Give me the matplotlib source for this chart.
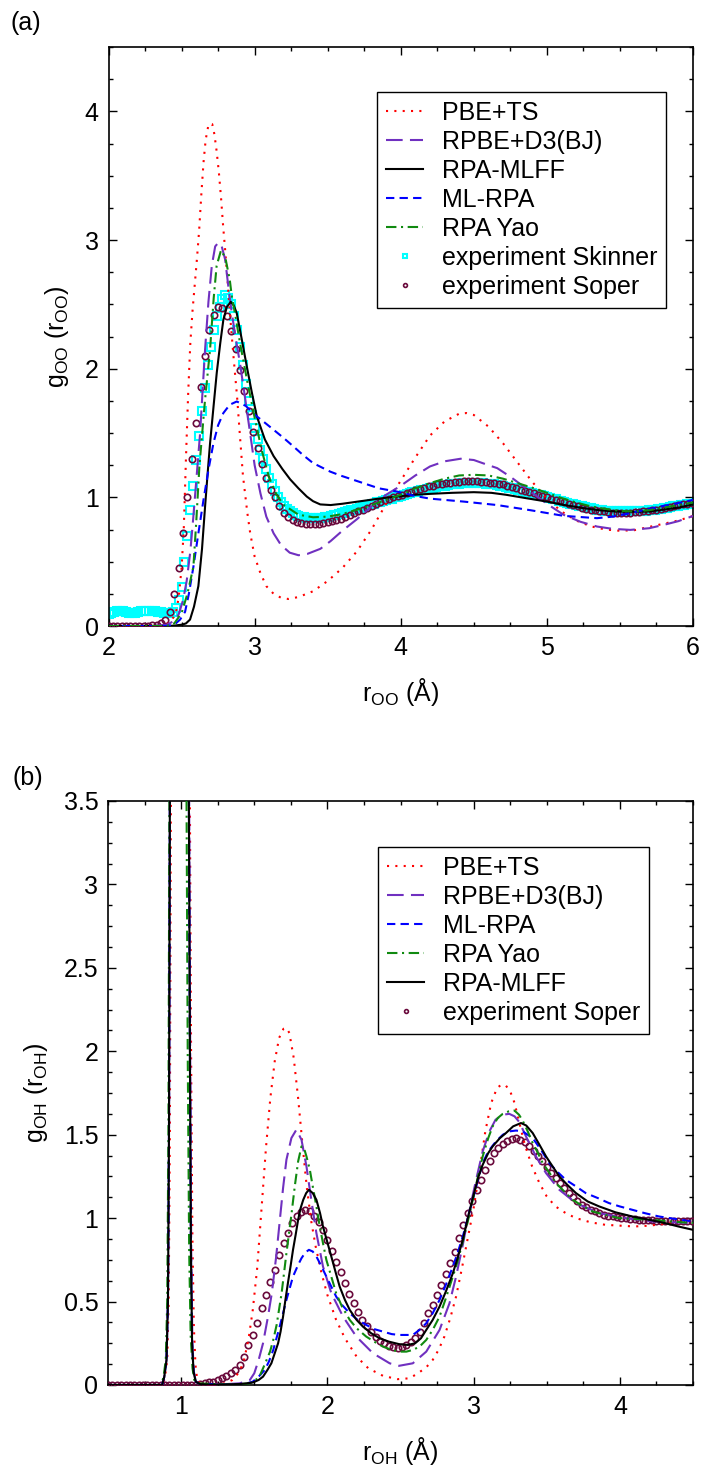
import numpy as np
import matplotlib
matplotlib.use("Agg")
from matplotlib import pyplot as plt
from matplotlib.ticker import MultipleLocator, FormatStrFormatter

plt.rcParams["font.family"] = ["Liberation Sans", "DejaVu Sans"]
plt.rcParams["mathtext.fontset"] = "custom"
plt.rcParams["mathtext.rm"] = "Liberation Sans"
plt.rcParams["mathtext.it"] = "Liberation Sans:italic"

# ---------------- panel (a): g_OO ----------------
pbeTs_r_a = [2.00, 2.20, 2.35, 2.40, 2.43, 2.46, 2.48, 2.50, 2.515, 2.53, 2.545, 2.56, 2.575, 2.59, 2.605,
             2.62, 2.635, 2.65, 2.665, 2.685, 2.71, 2.725, 2.74, 2.755, 2.77, 2.785, 2.80, 2.815, 2.83, 2.855,
             2.88, 2.90, 2.92, 2.95, 2.97, 3.00, 3.04, 3.08, 3.13, 3.18, 3.23, 3.30, 3.40, 3.50, 3.60, 3.70,
             3.80, 3.90, 4.00, 4.10, 4.20, 4.30, 4.40, 4.45, 4.50, 4.60, 4.70, 4.80, 4.90, 5.00, 5.10, 5.20,
             5.30, 5.40, 5.50, 5.60, 5.70, 5.80, 5.90, 6.00]
pbeTs_g_a = [0, 0, 0.003, 0.015, 0.04, 0.10, 0.22, 0.45, 0.75, 1.3, 1.8, 2.2, 2.45, 2.65, 2.85,
             3.07, 3.35, 3.6, 3.78, 3.9, 3.9, 3.82, 3.69, 3.53, 3.33, 3.1, 2.9, 2.68, 2.44, 2.1,
             1.78, 1.47, 1.17, 0.88, 0.72, 0.54, 0.41, 0.31, 0.25, 0.22, 0.21, 0.225, 0.27, 0.35, 0.45, 0.58,
             0.75, 0.95, 1.13, 1.31, 1.48, 1.59, 1.65, 1.655, 1.64, 1.55, 1.42, 1.27, 1.12, 0.99, 0.89, 0.82,
             0.775, 0.75, 0.74, 0.745, 0.77, 0.795, 0.82, 0.855]

rpbe_r_a = [2.00, 2.30, 2.40, 2.45, 2.48, 2.51, 2.535, 2.56, 2.58, 2.60, 2.627, 2.645, 2.661, 2.684, 2.707,
            2.73, 2.752, 2.775, 2.798, 2.82, 2.844, 2.87, 2.90, 2.935, 2.969, 3.00, 3.04, 3.08, 3.13, 3.18,
            3.24, 3.30, 3.36, 3.45, 3.52, 3.60, 3.70, 3.80, 3.90, 4.00, 4.10, 4.20, 4.30, 4.41, 4.50, 4.60,
            4.66, 4.75, 4.887, 5.00, 5.115, 5.23, 5.343, 5.45, 5.571, 5.70, 5.80, 5.90, 6.00]
rpbe_g_a = [0, 0, 0.01, 0.04, 0.09, 0.2, 0.35, 0.58, 0.84, 1.12, 1.5, 1.85, 2.15, 2.52, 2.8,
            2.95, 2.98, 2.95, 2.85, 2.64, 2.43, 2.24, 2.04, 1.77, 1.5, 1.25, 1.03, 0.85, 0.72, 0.63,
            0.57, 0.55, 0.56, 0.6, 0.66, 0.74, 0.83, 0.93, 1.02, 1.09, 1.17, 1.24, 1.28, 1.30, 1.29, 1.25,
            1.227, 1.16, 1.045, 0.95, 0.864, 0.81, 0.773, 0.755, 0.747, 0.76, 0.786, 0.815, 0.855]

mlff_r_a = [2.00, 2.40, 2.45, 2.50, 2.53, 2.558, 2.585, 2.615, 2.64, 2.661, 2.678, 2.695, 2.72, 2.741, 2.765,
            2.786, 2.81, 2.837, 2.858, 2.878, 2.91, 2.946, 2.98, 3.015, 3.07, 3.13, 3.19, 3.243, 3.30, 3.357,
            3.40, 3.449, 3.52, 3.60, 3.745, 3.85, 3.974, 4.10, 4.20, 4.35, 4.50, 4.62, 4.72, 4.85, 5.00,
            5.12, 5.25, 5.36, 5.47, 5.60, 5.70, 5.80, 5.90, 6.00]
mlff_g_a = [0, 0, 0.003, 0.01, 0.02, 0.05, 0.15, 0.31, 0.6, 0.93, 1.18, 1.42, 1.72, 1.97, 2.2,
            2.38, 2.48, 2.52, 2.49, 2.43, 2.24, 2.02, 1.82, 1.63, 1.45, 1.32, 1.22, 1.14, 1.07, 1.006,
            0.97, 0.945, 0.94, 0.95, 0.973, 0.99, 1.006, 1.02, 1.027, 1.035, 1.04, 1.035, 1.02, 0.995, 0.967,
            0.94, 0.916, 0.9, 0.89, 0.888, 0.89, 0.905, 0.92, 0.945]

mlRpa_r_a = [2.00, 2.40, 2.45, 2.49, 2.524, 2.55, 2.581, 2.615, 2.65, 2.685, 2.718, 2.75, 2.786, 2.83, 2.878,
             2.94, 3.003, 3.07, 3.13, 3.20, 3.266, 3.33, 3.40, 3.517, 3.586, 3.745, 3.85, 3.974, 4.10, 4.20,
             4.43, 4.66, 4.887, 5.115, 5.343, 5.45, 5.571, 5.70, 5.80, 5.90, 6.00]
mlRpa_g_a = [0, 0, 0.01, 0.05, 0.11, 0.25, 0.46, 0.72, 0.98, 1.22, 1.42, 1.56, 1.655, 1.72, 1.745,
             1.71, 1.64, 1.58, 1.525, 1.46, 1.395, 1.33, 1.266, 1.20, 1.17, 1.11, 1.07, 1.045, 1.01, 0.99,
             0.967, 0.94, 0.90, 0.856, 0.838, 0.85, 0.877, 0.91, 0.934, 0.955, 0.98]

yao_r_a = [2.00, 2.40, 2.45, 2.50, 2.54, 2.581, 2.60, 2.622, 2.66, 2.695, 2.72, 2.74, 2.77, 2.80, 2.83,
           2.844, 2.87, 2.90, 2.95, 3.00, 3.05, 3.10, 3.15, 3.20, 3.30, 3.40, 3.50, 3.60, 3.75, 3.90,
           4.00, 4.10, 4.20, 4.30, 4.40, 4.50, 4.60, 4.70, 4.80, 4.90, 5.00, 5.10, 5.20, 5.30, 5.40,
           5.50, 5.60, 5.70, 5.80, 5.90, 6.00]
yao_g_a = [0, 0, 0.02, 0.1, 0.25, 0.46, 0.8, 1.24, 1.75, 2.15, 2.55, 2.8, 2.92, 2.86, 2.69,
           2.56, 2.4, 2.2, 1.9, 1.62, 1.36, 1.15, 1.02, 0.94, 0.865, 0.845, 0.85, 0.87, 0.92, 0.98,
           1.02, 1.07, 1.11, 1.145, 1.17, 1.175, 1.17, 1.145, 1.11, 1.075, 1.035, 0.995, 0.96, 0.93, 0.91,
           0.895, 0.89, 0.9, 0.92, 0.94, 0.96]

# experiment Skinner, sampled every 0.02 A from 2.00
skinner_r0, skinner_dr = 2.00, 0.02
skinner_g = [0.09, 0.10, 0.11, 0.12, 0.12, 0.12, 0.11, 0.10, 0.10, 0.10,
             0.11, 0.12, 0.12, 0.12, 0.12, 0.12, 0.12, 0.11, 0.11, 0.10,
             0.10, 0.10, 0.11, 0.14, 0.20, 0.30, 0.50, 0.70, 0.90, 1.09,
             1.29, 1.48, 1.67, 1.85, 2.03, 2.17, 2.30, 2.41, 2.48, 2.54,
             2.57, 2.55, 2.50, 2.41, 2.30, 2.17, 2.03, 1.88, 1.75, 1.64,
             1.54, 1.45, 1.37, 1.30, 1.22, 1.15, 1.10, 1.05, 1.00, 0.96,
             0.93, 0.91, 0.89, 0.875, 0.865, 0.855, 0.85, 0.845, 0.84, 0.84,
             0.84, 0.84, 0.84, 0.84, 0.845, 0.85, 0.855, 0.86, 0.865, 0.87,
             0.88, 0.885, 0.89, 0.90, 0.905, 0.91, 0.92, 0.925, 0.93, 0.94,
             0.945, 0.95, 0.96, 0.965, 0.97, 0.98, 0.985, 0.99, 1.00, 1.005,
             1.01, 1.02, 1.025, 1.03, 1.04, 1.045, 1.05, 1.055, 1.06, 1.065,
             1.07, 1.075, 1.08, 1.085, 1.09, 1.09, 1.095, 1.10, 1.10, 1.105,
             1.105, 1.11, 1.11, 1.11, 1.11, 1.11, 1.11, 1.11, 1.11, 1.105,
             1.105, 1.10, 1.10, 1.095, 1.09, 1.085, 1.08, 1.075, 1.07, 1.065,
             1.06, 1.055, 1.05, 1.045, 1.04, 1.03, 1.025, 1.02, 1.015, 1.01,
             1.005, 0.995, 0.99, 0.985, 0.975, 0.97, 0.965, 0.955, 0.95, 0.945,
             0.94, 0.935, 0.93, 0.925, 0.92, 0.915, 0.91, 0.905, 0.90, 0.90,
             0.895, 0.895, 0.89, 0.89, 0.89, 0.89, 0.89, 0.89, 0.89, 0.89,
             0.89, 0.89, 0.89, 0.895, 0.895, 0.90, 0.90, 0.905, 0.91, 0.91,
             0.915, 0.92, 0.925, 0.93, 0.93, 0.935, 0.94, 0.94, 0.945, 0.95,
             0.95, 0.955, 0.96]

# experiment Soper, sampled every 0.03 A from 2.00
soperOO_r0, soperOO_dr = 2.00, 0.03
soperOO_g = [0, 0, 0, 0, 0, 0, 0, 0, 0, 0,
             0.005, 0.01, 0.02, 0.05, 0.11, 0.25, 0.45, 0.72, 1.00, 1.30,
             1.58, 1.86, 2.10, 2.30, 2.42, 2.48, 2.47, 2.41, 2.29, 2.15,
             1.99, 1.83, 1.67, 1.51, 1.38, 1.26, 1.15, 1.06, 1.00, 0.93,
             0.88, 0.85, 0.82, 0.81, 0.80, 0.795, 0.79, 0.79, 0.79, 0.80,
             0.805, 0.815, 0.825, 0.835, 0.85, 0.86, 0.875, 0.89, 0.905, 0.92,
             0.935, 0.95, 0.965, 0.98, 0.99, 1.00, 1.01, 1.02, 1.035, 1.045,
             1.055, 1.065, 1.075, 1.085, 1.09, 1.10, 1.105, 1.11, 1.115, 1.12,
             1.12, 1.125, 1.125, 1.125, 1.125, 1.12, 1.12, 1.115, 1.11, 1.105,
             1.10, 1.09, 1.08, 1.07, 1.06, 1.05, 1.04, 1.03, 1.02, 1.01,
             1.00, 0.99, 0.98, 0.97, 0.96, 0.95, 0.94, 0.93, 0.92, 0.91,
             0.905, 0.90, 0.895, 0.89, 0.885, 0.88, 0.88, 0.88, 0.88, 0.88,
             0.885, 0.885, 0.89, 0.895, 0.90, 0.905, 0.91, 0.915, 0.925, 0.93,
             0.94, 0.945, 0.95, 0.955]

# ---------------- panel (b): g_OH ----------------
pbeTs_r_b = [0.50, 0.875, 0.89, 0.905, 0.915, 0.923, 0.93, 0.942, 0.96, 0.985, 1.01, 1.035, 1.05, 1.06, 1.068,
             1.077, 1.087, 1.098, 1.11, 1.13, 1.20, 1.25, 1.30, 1.35, 1.40, 1.43, 1.46, 1.49, 1.52, 1.55,
             1.58, 1.61, 1.64, 1.67, 1.70, 1.72, 1.74, 1.77, 1.80, 1.83, 1.86, 1.89, 1.92, 1.96, 2.00,
             2.06, 2.12, 2.20, 2.28, 2.38, 2.48, 2.56, 2.62, 2.68, 2.72, 2.76, 2.80, 2.84, 2.88, 2.92,
             2.96, 3.00, 3.04, 3.08, 3.12, 3.16, 3.19, 3.22, 3.25, 3.28, 3.31, 3.35, 3.40, 3.45, 3.50,
             3.56, 3.63, 3.70, 3.80, 3.90, 4.00, 4.10, 4.20, 4.30, 4.40, 4.50]
pbeTs_g_b = [0, 0, 0.05, 0.15, 0.5, 1.5, 3.5, 8, 14, 17, 14, 8, 5, 3.5, 2.0,
             0.9, 0.35, 0.12, 0.03, 0.01, 0.003, 0.005, 0.01, 0.03, 0.08, 0.15, 0.27, 0.45, 0.70, 1.06,
             1.42, 1.72, 1.94, 2.08, 2.135, 2.14, 2.11, 1.96, 1.72, 1.44, 1.18, 0.98, 0.83, 0.67, 0.54,
             0.39, 0.28, 0.17, 0.10, 0.055, 0.035, 0.04, 0.07, 0.11, 0.15, 0.21, 0.29, 0.40, 0.53, 0.70,
             0.88, 1.06, 1.28, 1.52, 1.69, 1.78, 1.80, 1.795, 1.76, 1.69, 1.58, 1.44, 1.31, 1.21, 1.13,
             1.07, 1.03, 1.0, 0.975, 0.96, 0.955, 0.95, 0.955, 0.965, 0.98, 0.995]

rpbe_r_b = [0.50, 0.87, 0.885, 0.90, 0.91, 0.917, 0.923, 0.935, 0.955, 0.98, 1.005, 1.03, 1.047, 1.055, 1.062,
            1.069, 1.077, 1.087, 1.10, 1.13, 1.30, 1.40, 1.47, 1.50, 1.53, 1.56, 1.594, 1.62, 1.65, 1.674,
            1.697, 1.72, 1.754, 1.788, 1.823, 1.857, 1.89, 1.925, 1.97, 2.027, 2.107, 2.198, 2.312, 2.426, 2.49,
            2.584, 2.676, 2.767, 2.835, 2.88, 2.926, 2.97, 3.017, 3.062, 3.108, 3.15, 3.20, 3.244, 3.28, 3.313,
            3.358, 3.426, 3.495, 3.586, 3.70, 3.859, 4.04, 4.22, 4.50]
rpbe_g_b = [0, 0, 0.05, 0.15, 0.5, 1.5, 3.5, 8, 14, 17, 14, 8, 5, 3.5, 2.0,
            0.8, 0.25, 0.08, 0.02, 0.005, 0.005, 0.01, 0.03, 0.07, 0.15, 0.25, 0.41, 0.55, 0.77, 0.98,
            1.18, 1.35, 1.48, 1.53, 1.47, 1.31, 1.11, 0.91, 0.71, 0.55, 0.41, 0.29, 0.19, 0.13, 0.115,
            0.13, 0.2, 0.33, 0.49, 0.65, 0.84, 1.04, 1.23, 1.40, 1.52, 1.59, 1.62, 1.625, 1.61, 1.575,
            1.49, 1.37, 1.27, 1.17, 1.09, 1.03, 1.0, 0.98, 0.97]

mlRpa_r_b = [0.50, 0.87, 0.885, 0.90, 0.91, 0.917, 0.923, 0.935, 0.955, 0.98, 1.005, 1.03, 1.045, 1.053, 1.06,
             1.067, 1.075, 1.085, 1.10, 1.13, 1.40, 1.45, 1.49, 1.53, 1.572, 1.60, 1.63, 1.674, 1.72, 1.765,
             1.80, 1.823, 1.85, 1.874, 1.90, 1.925, 1.96, 1.993, 2.06, 2.10, 2.153, 2.20, 2.266, 2.32, 2.38,
             2.44, 2.49, 2.584, 2.63, 2.676, 2.72, 2.767, 2.81, 2.858, 2.89, 2.926, 2.96, 2.994, 3.03, 3.062,
             3.10, 3.153, 3.20, 3.244, 3.29, 3.335, 3.404, 3.46, 3.517, 3.57, 3.63, 3.70, 3.767, 3.85, 3.926,
             4.00, 4.085, 4.17, 4.267, 4.38, 4.50]
mlRpa_g_b = [0, 0, 0.05, 0.15, 0.5, 1.5, 3.5, 8, 14, 17, 14, 8, 5, 3.5, 2.0,
             0.8, 0.25, 0.08, 0.02, 0.005, 0.005, 0.01, 0.02, 0.05, 0.09, 0.14, 0.21, 0.35, 0.51, 0.65,
             0.72, 0.76, 0.795, 0.81, 0.80, 0.77, 0.71, 0.65, 0.53, 0.48, 0.43, 0.395, 0.36, 0.335, 0.32,
             0.305, 0.30, 0.30, 0.33, 0.37, 0.43, 0.51, 0.60, 0.71, 0.79, 0.89, 1.0, 1.11, 1.23, 1.33,
             1.40, 1.46, 1.50, 1.52, 1.525, 1.52, 1.48, 1.41, 1.33, 1.28, 1.23, 1.19, 1.15, 1.12, 1.09,
             1.07, 1.05, 1.03, 1.01, 0.995, 0.98]

yao_r_b = [0.50, 0.865, 0.88, 0.895, 0.905, 0.913, 0.92, 0.932, 0.952, 0.975, 1.0, 1.02, 1.031, 1.037, 1.045,
           1.055, 1.065, 1.078, 1.09, 1.11, 1.30, 1.40, 1.47, 1.51, 1.54, 1.57, 1.608, 1.63, 1.653, 1.687,
           1.72, 1.754, 1.777, 1.80, 1.823, 1.84, 1.857, 1.88, 1.90, 1.925, 1.948, 1.97, 1.993, 2.03, 2.06,
           2.10, 2.153, 2.20, 2.266, 2.32, 2.38, 2.44, 2.49, 2.54, 2.584, 2.63, 2.676, 2.72, 2.767, 2.81,
           2.858, 2.89, 2.926, 2.96, 2.994, 3.03, 3.062, 3.10, 3.13, 3.165, 3.199, 3.24, 3.279, 3.31, 3.335,
           3.37, 3.404, 3.44, 3.472, 3.52, 3.563, 3.62, 3.677, 3.75, 3.813, 3.90, 3.995, 4.10, 4.22, 4.35, 4.50]
yao_g_b = [0, 0, 0.05, 0.15, 0.5, 1.5, 3.5, 8, 14, 17, 14, 8, 5, 3.5, 2.0,
           0.8, 0.3, 0.1, 0.03, 0.01, 0.003, 0.005, 0.01, 0.03, 0.06, 0.12, 0.2, 0.27, 0.36, 0.55,
           0.79, 1.02, 1.19, 1.34, 1.43, 1.42, 1.37, 1.29, 1.19, 1.07, 0.95, 0.85, 0.75, 0.64, 0.55,
           0.47, 0.39, 0.34, 0.29, 0.26, 0.23, 0.21, 0.20, 0.2, 0.21, 0.23, 0.27, 0.33, 0.41, 0.52,
           0.65, 0.74, 0.86, 0.98, 1.11, 1.25, 1.37, 1.48, 1.55, 1.60, 1.625, 1.64, 1.645, 1.62, 1.585,
           1.52, 1.45, 1.39, 1.33, 1.27, 1.21, 1.16, 1.11, 1.07, 1.04, 1.02, 1.0, 0.995, 0.99, 0.98, 0.97]

mlff_r_b = [0.50, 0.87, 0.885, 0.90, 0.91, 0.917, 0.923, 0.935, 0.955, 0.98, 1.005, 1.03, 1.045, 1.053, 1.06,
            1.067, 1.075, 1.085, 1.10, 1.13, 1.20, 1.30, 1.40, 1.45, 1.49, 1.53, 1.56, 1.59, 1.617, 1.64,
            1.663, 1.68, 1.697, 1.713, 1.73, 1.748, 1.765, 1.783, 1.80, 1.817, 1.835, 1.855, 1.874, 1.90, 1.925,
            1.95, 1.97, 2.00, 2.027, 2.055, 2.084, 2.12, 2.153, 2.20, 2.243, 2.30, 2.357, 2.42, 2.49, 2.55,
            2.60, 2.64, 2.676, 2.72, 2.767, 2.81, 2.858, 2.89, 2.926, 2.96, 2.994, 3.03, 3.062, 3.10, 3.13,
            3.18, 3.221, 3.27, 3.324, 3.36, 3.404, 3.45, 3.495, 3.54, 3.586, 3.64, 3.70, 3.78, 3.859, 3.97,
            4.085, 4.20, 4.31, 4.40, 4.50]
mlff_g_b = [0, 0, 0.05, 0.15, 0.5, 1.5, 3.5, 8, 14, 17, 14, 8, 5, 3.5, 2.0,
            0.8, 0.25, 0.08, 0.02, 0.005, 0.002, 0.003, 0.006, 0.01, 0.015, 0.03, 0.05, 0.09, 0.13, 0.19,
            0.25, 0.32, 0.41, 0.51, 0.61, 0.71, 0.81, 0.9, 0.99, 1.06, 1.11, 1.15, 1.17, 1.15, 1.11,
            1.03, 0.95, 0.855, 0.77, 0.68, 0.59, 0.51, 0.45, 0.39, 0.35, 0.31, 0.28, 0.26, 0.245, 0.24,
            0.25, 0.28, 0.33, 0.39, 0.47, 0.56, 0.67, 0.76, 0.87, 1.0, 1.12, 1.24, 1.32, 1.39, 1.43,
            1.48, 1.51, 1.55, 1.57, 1.555, 1.51, 1.44, 1.37, 1.31, 1.25, 1.2, 1.15, 1.1, 1.07, 1.035,
            1.01, 0.99, 0.97, 0.95, 0.93]

# experiment Soper, sampled every 0.03 A from 0.50
soperOH_r0, soperOH_dr = 0.50, 0.03
soperOH_g = [0, 0, 0, 0, 0, 0, 0, 0, 0, 0,
             0, 0, 0, 0, 0, 0, 0, 0, 0, 0,
             0, 0.005, 0.01, 0.015, 0.02, 0.03, 0.04, 0.055, 0.07, 0.09,
             0.12, 0.17, 0.24, 0.30, 0.37, 0.46, 0.54, 0.62, 0.69, 0.78,
             0.85, 0.91, 0.97, 1.01, 1.035, 1.05, 1.04, 1.015, 0.975, 0.93,
             0.87, 0.805, 0.74, 0.68, 0.61, 0.545, 0.49, 0.44, 0.39, 0.355,
             0.32, 0.29, 0.265, 0.25, 0.235, 0.225, 0.22, 0.225, 0.24, 0.26,
             0.28, 0.32, 0.37, 0.43, 0.48, 0.54, 0.60, 0.665, 0.73, 0.80,
             0.88, 0.96, 1.03, 1.10, 1.17, 1.23, 1.29, 1.34, 1.39, 1.42,
             1.445, 1.465, 1.475, 1.48, 1.47, 1.455, 1.435, 1.40, 1.37, 1.34,
             1.305, 1.27, 1.24, 1.21, 1.18, 1.15, 1.125, 1.10, 1.08, 1.065,
             1.05, 1.04, 1.03, 1.02, 1.015, 1.01, 1.005, 1.0, 1.0, 0.995,
             0.995, 0.99, 0.99, 0.99, 0.99, 0.985, 0.985, 0.985, 0.98, 0.98,
             0.98, 0.98, 0.98, 0.98]

RED = "#ff0000"
PURPLE = "#7030c0"
BLACK = "#000000"
BLUE = "#0000ff"
GREEN = "#108a10"
CYAN = "#00ffff"
MAROON = "#6a0a3c"
FS = 18

STYLE = {
    "PBE+TS": dict(color=RED, lw=1.5, ls=(0, (1, 3))),
    "RPBE+D3(BJ)": dict(color=PURPLE, lw=1.5, ls=(0, (8, 3.5))),
    "RPA-MLFF": dict(color=BLACK, lw=1.5, ls="-"),
    "ML-RPA": dict(color=BLUE, lw=1.5, ls=(0, (4, 2.5))),
    "RPA Yao": dict(color=GREEN, lw=1.5, ls=(0, (5, 2.2, 1, 2.2))),
}


def setAxis(axis, xlim, ylim, xmajor, xminor, ymajor, yminor):
    axis.set_xlim(xlim)
    axis.set_ylim(ylim)
    axis.xaxis.set_major_locator(MultipleLocator(xmajor))
    axis.xaxis.set_minor_locator(MultipleLocator(xminor))
    axis.yaxis.set_major_locator(MultipleLocator(ymajor))
    axis.yaxis.set_minor_locator(MultipleLocator(yminor))
    axis.xaxis.set_major_formatter(FormatStrFormatter("%g"))
    axis.yaxis.set_major_formatter(FormatStrFormatter("%g"))
    axis.tick_params(which="both", direction="in", top=True, right=True, width=1.0, labelsize=FS)
    axis.tick_params(which="major", length=6, pad=7)
    axis.tick_params(which="minor", length=3)
    for spine in axis.spines.values():
        spine.set_linewidth(1.2)


def drawExperiment(axis, r0, dr, g, marker, color, size, edge, label, z):
    r = r0 + dr * np.arange(len(g))
    h, = axis.plot(r, g, ls="none", marker=marker, ms=size, mfc="none", mec=color, mew=edge,
                   zorder=z, label=label)
    return h


def addLegend(axis, handles, anchor):
    leg = axis.legend(handles=handles, loc="upper left", bbox_to_anchor=anchor, borderaxespad=0,
                      fontsize=FS, frameon=True, fancybox=False, framealpha=1, edgecolor="black",
                      handlelength=1.5, handletextpad=0.75, labelspacing=0.2, borderpad=0.35,
                      numpoints=1, markerscale=0.6)
    leg.get_frame().set_linewidth(1.0)
    return leg


figure = plt.figure(figsize=(7.01, 14.77), dpi=100)

# ----- (a)
axA = figure.add_axes([108.5 / 701, 1 - 626 / 1477, 584.5 / 701, 579 / 1477])
setAxis(axA, (2, 6), (0, 4.5), 1, 0.25, 1, 0.25)
axA.set_yticks([0, 1, 2, 3, 4])
hSk = drawExperiment(axA, skinner_r0, skinner_dr, skinner_g, "s", CYAN, 5.2, 1.5, "experiment Skinner", 2)
hSoA = drawExperiment(axA, soperOO_r0, soperOO_dr, soperOO_g, "o", MAROON, 4.6, 1.2, "experiment Soper", 3)
handlesA = []
for name, r, g in [("PBE+TS", pbeTs_r_a, pbeTs_g_a),
                   ("RPBE+D3(BJ)", rpbe_r_a, rpbe_g_a),
                   ("RPA-MLFF", mlff_r_a, mlff_g_a),
                   ("ML-RPA", mlRpa_r_a, mlRpa_g_a),
                   ("RPA Yao", yao_r_a, yao_g_a)]:
    h, = axA.plot(r, g, label=name, zorder=4, **STYLE[name])
    handlesA.append(h)
handlesA += [hSk, hSoA]
addLegend(axA, handlesA, ((377 - 108.5) / 584.5, (626 - 92) / 579))
axA.set_xlabel(r"r$_{\mathrm{OO}}$ (Å)", fontsize=FS, labelpad=12)
axA.set_ylabel(r"g$_{\mathrm{OO}}$ (r$_{\mathrm{OO}}$)", fontsize=FS, labelpad=10)
figure.text(26 / 701, 1 - 23 / 1477, "(a)", fontsize=FS, ha="center", va="center")

# ----- (b)
axB = figure.add_axes([108 / 701, 1 - 1385 / 1477, 585 / 701, 584 / 1477])
setAxis(axB, (0.5, 4.5), (0, 3.5), 1, 0.25, 0.5, 0.125)
axB.set_xticks([1, 2, 3, 4])
hSoB = drawExperiment(axB, soperOH_r0, soperOH_dr, soperOH_g, "o", MAROON, 4.6, 1.2, "experiment Soper", 3)
handlesB = []
for name, r, g in [("PBE+TS", pbeTs_r_b, pbeTs_g_b),
                   ("RPBE+D3(BJ)", rpbe_r_b, rpbe_g_b),
                   ("ML-RPA", mlRpa_r_b, mlRpa_g_b),
                   ("RPA Yao", yao_r_b, yao_g_b),
                   ("RPA-MLFF", mlff_r_b, mlff_g_b)]:
    h, = axB.plot(r, g, label=name, zorder=4, **STYLE[name])
    handlesB.append(h)
handlesB.append(hSoB)
addLegend(axB, handlesB, ((378 - 108) / 585, (1385 - 847) / 584))
axB.set_xlabel(r"r$_{\mathrm{OH}}$ (Å)", fontsize=FS, labelpad=12)
axB.set_ylabel(r"g$_{\mathrm{OH}}$ (r$_{\mathrm{OH}}$)", fontsize=FS, labelpad=10)
figure.text(28 / 701, 1 - 778 / 1477, "(b)", fontsize=FS, ha="center", va="center")

figure.savefig("out.png", dpi=100)
